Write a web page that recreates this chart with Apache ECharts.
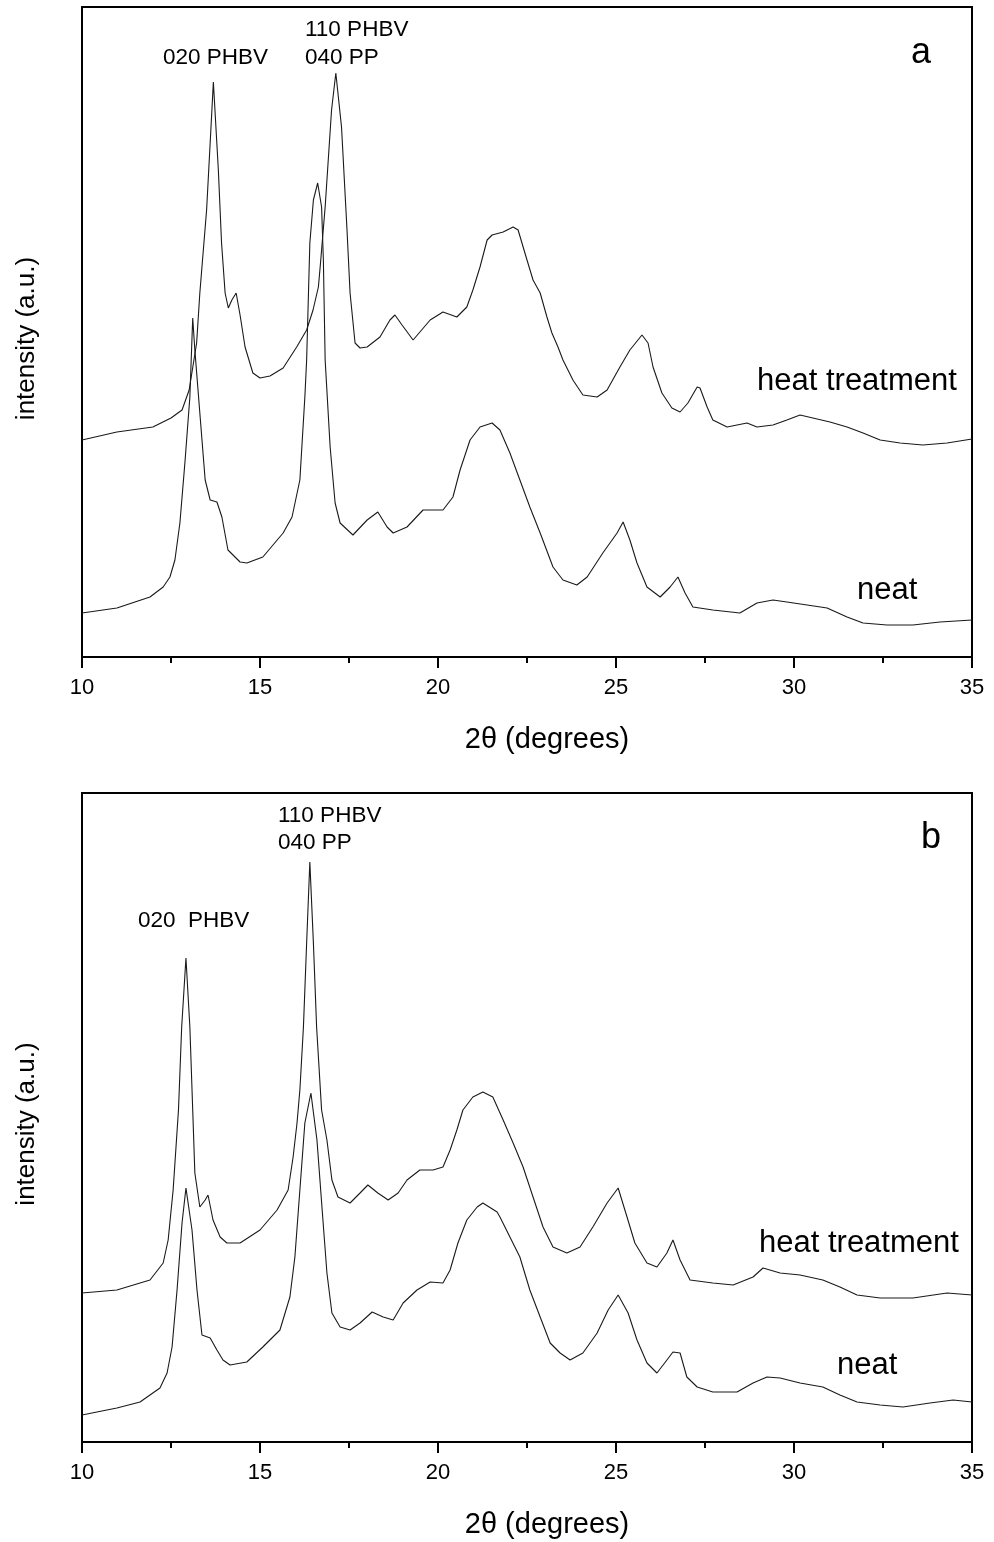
<!DOCTYPE html>
<html>
<head>
<meta charset="utf-8">
<script src="https://cdn.jsdelivr.net/npm/echarts@6/dist/echarts.min.js"></script>
<style>
html,body{margin:0;padding:0;background:#fff;}
#chart{width:994px;height:1542px;}
</style>
</head>
<body>
<div id="chart"></div>
<script>
// ---- Data (2θ in degrees, intensity in arbitrary units) ----
const seriesNames = ['heat treatment', 'neat'];

// Panel a
const heatA = [
[10.00,217],[10.98,225],[11.99,230],[12.50,239],[12.81,247],[13.01,267],[13.22,314],[13.31,364],
[13.50,447],[13.60,514],[13.69,575],[13.83,487],[13.92,414],[14.02,364],[14.11,349],[14.21,357],
[14.33,364],[14.44,342],[14.58,310],[14.80,284],[15.00,279],[15.28,281],[15.65,289],[16.03,310],
[16.31,327],[16.49,347],[16.64,370],[16.69,390],[16.83,450],[17.01,547],[17.13,584],[17.29,530],
[17.44,430],[17.53,364],[17.67,314],[17.81,309],[18.01,310],[18.37,320],[18.65,337],[18.79,342],
[18.99,332],[19.30,317],[19.78,337],[20.14,345],[20.53,340],[20.81,350],[20.98,367],[21.18,390],
[21.38,417],[21.52,422],[21.83,425],[22.11,430],[22.25,427],[22.50,397],[22.67,377],[22.87,364],
[23.06,340],[23.20,324],[23.37,310],[23.51,297],[23.79,277],[24.07,262],[24.47,260],[24.75,267],
[25.11,290],[25.39,307],[25.73,322],[25.90,314],[26.04,290],[26.29,264],[26.57,249],[26.80,245],
[27.02,254],[27.28,270],[27.36,269],[27.56,250],[27.72,237],[28.12,230],[28.68,234],[28.96,230],
[29.41,232],[29.80,237],[30.17,242],[30.53,239],[31.01,235],[31.49,230],[31.94,224],[32.42,217],
[32.98,214],[33.62,212],[34.30,214],[35.00,218]
];
const neatA = [
[10.00,44],[10.98,49],[11.91,60],[12.28,70],[12.47,80],[12.61,97],[12.75,134],[12.89,194],
[13.03,260],[13.11,339],[13.17,307],[13.31,244],[13.46,177],[13.60,157],[13.79,155],[13.93,140],
[14.10,107],[14.44,95],[14.63,94],[15.08,100],[15.65,124],[15.90,140],[16.12,177],[16.26,260],
[16.31,297],[16.40,414],[16.50,457],[16.62,474],[16.73,450],[16.78,397],[16.83,297],[16.97,210],
[17.11,154],[17.25,134],[17.61,122],[18.01,137],[18.31,145],[18.57,130],[18.74,124],[19.13,130],
[19.58,147],[20.14,147],[20.42,160],[20.62,187],[20.90,217],[21.18,230],[21.52,234],[21.74,227],
[22.02,204],[22.30,177],[22.58,150],[22.87,124],[23.23,90],[23.51,77],[23.90,72],[24.19,80],
[24.63,104],[25.03,124],[25.20,135],[25.39,117],[25.59,94],[25.87,70],[26.24,60],[26.52,70],
[26.74,80],[26.94,64],[27.16,50],[27.72,47],[28.48,44],[28.96,54],[29.41,57],[29.80,55],
[30.37,52],[30.93,49],[31.49,40],[31.94,34],[32.61,32],[33.34,32],[34.10,35],[35.00,37]
];

// Panel b
const heatB = [
[10.00,149],[10.98,152],[11.91,162],[12.28,179],[12.42,202],[12.56,252],[12.71,332],[12.80,415],
[12.92,484],[13.03,415],[13.11,332],[13.17,269],[13.31,235],[13.46,242],[13.54,247],[13.68,222],
[13.88,205],[14.07,199],[14.44,199],[15.00,212],[15.48,232],[15.79,252],[15.93,285],[16.04,319],
[16.12,352],[16.22,415],[16.31,499],[16.40,580],[16.50,499],[16.59,415],[16.73,332],[16.88,302],
[17.02,262],[17.19,245],[17.53,239],[17.81,249],[18.03,257],[18.31,249],[18.60,242],[18.88,249],
[19.13,262],[19.49,272],[19.86,272],[20.14,275],[20.34,292],[20.53,312],[20.70,332],[20.98,345],
[21.26,350],[21.54,345],[21.83,322],[22.11,299],[22.39,275],[22.67,245],[22.95,215],[23.23,195],
[23.62,189],[23.99,195],[24.35,215],[24.75,239],[25.06,254],[25.31,225],[25.53,199],[25.87,179],
[26.15,175],[26.43,189],[26.60,202],[26.80,182],[27.08,162],[27.72,159],[28.29,157],[28.85,165],
[29.13,174],[29.61,169],[30.17,167],[30.81,162],[31.29,155],[31.77,147],[32.42,144],[33.34,144],
[34.30,149],[35.00,147]
];
const neatB = [
[10.00,27],[10.98,34],[11.63,40],[12.19,54],[12.39,69],[12.53,95],[12.67,152],[12.81,219],
[12.92,254],[13.09,212],[13.23,152],[13.37,107],[13.60,104],[13.79,92],[13.96,82],[14.16,77],
[14.63,80],[15.08,95],[15.56,112],[15.84,145],[15.98,185],[16.12,252],[16.26,319],[16.43,349],
[16.60,302],[16.74,235],[16.88,169],[17.02,129],[17.25,115],[17.53,112],[17.81,119],[18.15,130],
[18.46,125],[18.74,122],[19.02,139],[19.41,152],[19.78,160],[20.14,159],[20.34,172],[20.56,199],
[20.81,222],[21.10,235],[21.26,239],[21.66,230],[21.74,225],[22.02,205],[22.30,185],[22.58,152],
[22.87,125],[23.15,99],[23.43,89],[23.71,82],[24.07,89],[24.47,109],[24.78,132],[25.06,147],
[25.34,129],[25.59,102],[25.87,79],[26.15,69],[26.43,82],[26.60,90],[26.80,89],[26.99,65],
[27.28,55],[27.72,50],[28.40,50],[28.85,59],[29.24,65],[29.61,64],[30.17,59],[30.81,55],
[31.29,47],[31.77,40],[32.42,37],[33.06,35],[33.82,39],[34.47,42],[35.00,40]
];

const xMin = 10, xMax = 35, xStep = 5;
const xTitle = '2\u03b8 (degrees)';
const yTitle = 'intensity (a.u.)';

// ---- Chart ----
const FONT = '"Liberation Sans", Arial, sans-serif';
const chart = echarts.init(document.getElementById('chart'), null, {renderer: 'canvas'});

function xAxisCfg(gi) {
  return {
    gridIndex: gi, type: 'value', min: xMin, max: xMax, interval: xStep,
    axisLine: {show: true, onZero: false, lineStyle: {color: '#000', width: 2}},
    axisTick: {show: true, inside: false, length: 11, lineStyle: {color: '#000', width: 2}},
    minorTick: {show: true, splitNumber: 2, length: 6, lineStyle: {color: '#000', width: 2}},
    axisLabel: {show: true, margin: 20, color: '#000', fontSize: 22, fontFamily: FONT},
    splitLine: {show: false},
    name: xTitle, nameLocation: 'middle', nameGap: 68,
    nameTextStyle: {color: '#000', fontSize: 29, fontFamily: FONT, padding: [0, 0, 0, 40]}
  };
}
function yAxisCfg(gi, max) {
  return {
    gridIndex: gi, type: 'value', min: 0, max: max,
    axisLine: {show: true, lineStyle: {color: '#000', width: 2}},
    axisTick: {show: false}, axisLabel: {show: false}, splitLine: {show: false},
    name: yTitle, nameLocation: 'middle', nameGap: 42, nameRotate: 90,
    nameTextStyle: {color: '#000', fontSize: 26, fontFamily: FONT, padding: [0, 13, 0, 0]}
  };
}
function lineSeries(name, data, gi) {
  return {
    name: name, type: 'line', xAxisIndex: gi, yAxisIndex: gi, data: data,
    showSymbol: false, symbol: 'none', smooth: false,
    lineStyle: {color: '#1a1a1a', width: 1.1}, animation: false
  };
}
function label(text, x, y, size) {
  return {type: 'text', x: x, y: y, style: {text: text, fill: '#000', font: size + 'px ' + FONT, verticalAlign: 'middle'}};
}

const option = {
  backgroundColor: '#fff',
  animation: false,
  grid: [
    {left: 82, top: 7, width: 890, height: 650, show: true, borderColor: '#000', borderWidth: 2, backgroundColor: 'transparent'},
    {left: 82, top: 793, width: 890, height: 649, show: true, borderColor: '#000', borderWidth: 2, backgroundColor: 'transparent'}
  ],
  xAxis: [xAxisCfg(0), xAxisCfg(1)],
  yAxis: [yAxisCfg(0, 650), yAxisCfg(1, 649)],
  series: [
    lineSeries(seriesNames[0], heatA, 0),
    lineSeries(seriesNames[1], neatA, 0),
    lineSeries(seriesNames[0], heatB, 1),
    lineSeries(seriesNames[1], neatB, 1)
  ],
  graphic: [
    label('020 PHBV', 163, 58, 22.5),
    label('110 PHBV', 305, 30, 22.5),
    label('040 PP', 305, 58, 22.5),
    label('a', 911, 53, 36),
    label('heat treatment', 757, 381, 31),
    label('neat', 857, 590, 31),
    label('020  PHBV', 138, 921, 22.5),
    label('110 PHBV', 278, 816, 22.5),
    label('040 PP', 278, 843, 22.5),
    label('b', 921, 838, 36),
    label('heat treatment', 759, 1243, 31),
    label('neat', 837, 1365, 31)
  ]
};
chart.setOption(option);
</script>
</body>
</html>
